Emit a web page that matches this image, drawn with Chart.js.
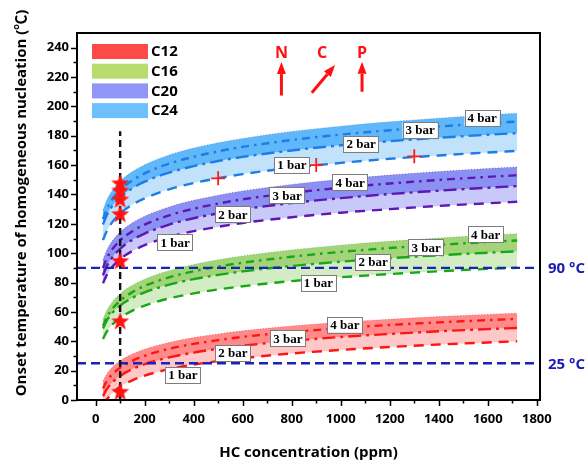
<!DOCTYPE html>
<html>
<head>
<meta charset="utf-8">
<script src="https://cdn.jsdelivr.net/npm/chart.js@4.4.0/dist/chart.umd.min.js"></script>
<style>
  html, body { margin: 0; padding: 0; background: #fff; }
  canvas { display: block; }
</style>
</head>
<body>
<canvas id="chart" width="586" height="464"></canvas>
<script>
// ---- data ----
const ppm = [30, 45, 65, 100, 150, 200, 300, 400, 500, 600, 800, 1000, 1200, 1400, 1600, 1720];

const c12Bar1 = [-3, 0.3, 4.3, 9, 13.4, 16.6, 21, 24.1, 26.5, 28.5, 31.7, 34.1, 36.1, 37.8, 39.2, 40];
const c12Bar2 = [2.6, 7.2, 11.4, 16.4, 21.1, 24.4, 29, 32.3, 34.9, 37, 40.3, 42.9, 45, 46.8, 48.3, 49.1];
const c12Bar3 = [7.9, 12.7, 17, 22, 26.7, 30.1, 34.9, 38.2, 40.8, 43, 46.3, 48.9, 51.1, 52.9, 54.4, 55.3];
const c12Bar4 = [13, 17.6, 21.8, 26.7, 31.3, 34.6, 39.2, 42.5, 45, 47.1, 50.4, 53, 55, 56.8, 58.3, 59.1];

const c16Bar1 = [41.6, 46.4, 50.8, 56, 60.9, 64.3, 69.2, 72.6, 75.3, 77.5, 81, 83.6, 85.8, 87.7, 89.3, 90.1];
const c16Bar2 = [48.7, 53.9, 58.7, 64.3, 69.6, 73.3, 78.6, 82.3, 85.2, 87.6, 91.3, 94.2, 96.6, 98.6, 100.3, 101.3];
const c16Bar3 = [50.4, 56.2, 61.5, 67.7, 73.5, 77.7, 83.5, 87.7, 90.9, 93.5, 97.6, 100.9, 103.5, 105.7, 107.6, 108.7];
const c16Bar4 = [55, 60.8, 66.1, 72.3, 78.1, 82.3, 88.1, 92.3, 95.5, 98.1, 102.2, 105.5, 108.1, 110.3, 112.2, 113.3];

const c20Bar1 = [79.5, 85.1, 90.1, 96, 101.5, 105.5, 111.1, 115, 118, 120.6, 124.5, 127.6, 130, 132.2, 134, 135];
const c20Bar2 = [84.9, 91, 96.5, 103, 109.1, 113.4, 119.5, 123.8, 127.1, 129.9, 134.2, 137.5, 140.3, 142.6, 144.6, 145.7];
const c20Bar3 = [89.9, 96.2, 102, 108.7, 115, 119.5, 125.8, 130.3, 133.8, 136.7, 141.1, 144.6, 147.5, 149.9, 152, 153.1];
const c20Bar4 = [95.6, 101.9, 107.7, 114.4, 120.7, 125.2, 131.5, 136, 139.5, 142.4, 146.8, 150.3, 153.2, 155.6, 157.7, 158.8];

const c24Bar1 = [108.9, 115, 120.5, 127, 133.1, 137.4, 143.5, 147.8, 151.1, 153.9, 158.2, 161.5, 164.3, 166.6, 168.6, 169.7];
const c24Bar2 = [119.5, 125.7, 131.4, 138, 144.2, 148.7, 154.9, 159.3, 162.8, 165.6, 170, 173.5, 176.3, 178.6, 180.7, 181.8];
const c24Bar3 = [123.3, 129.9, 135.9, 143, 149.6, 154.4, 161, 165.7, 169.4, 172.4, 177.1, 180.8, 183.8, 186.3, 188.5, 189.7];
const c24Bar4 = [129.4, 136, 142, 149, 155.6, 160.3, 166.9, 171.6, 175.2, 178.2, 182.9, 186.5, 189.5, 192, 194.2, 195.4];

const starPpm = [100, 100, 100, 100, 100, 100, 100];
const starTemp = [6, 54, 95, 127, 137, 143, 148];
const crossPpm = [500, 900, 1300];
const crossTemp = [151, 160, 166];

const xTicks = [0, 200, 400, 600, 800, 1000, 1200, 1400, 1600, 1800];
const yTicks = [0, 20, 40, 60, 80, 100, 120, 140, 160, 180, 200, 220, 240];

const refTemps = [90, 25];
const markerPpm = 100;
const markerTop = 183;

const seriesNames = ['C12', 'C16', 'C20', 'C24'];
const barLabelText = ['1 bar', '2 bar', '3 bar', '4 bar'];
// label anchors in data units, one row per series
const barLabelPpm = [
    [356, 560, 784, 1017],
    [909, 1132, 1348, 1591],
    [324, 560, 781, 1038],
    [801, 1083, 1324, 1577]
];
const barLabelTemp = [
    [17, 32, 42, 51.3],
    [79.7, 94, 104, 112.8],
    [107.4, 126.5, 139.5, 148.4],
    [160, 174.4, 183.9, 192.1]
];

// ---- styles ----
const bandStyles = [
    { line: '#ff1414', dark: '#ff8a8a', light: '#ffc8c8', key: '#ff4a4a' },
    { line: '#16a816', dark: '#a4d47a', light: '#d4ecc4', key: '#b8dd6e' },
    { line: '#5e16b4', dark: '#8b90f3', light: '#c8c9f8', key: '#8f96f5' },
    { line: '#1a7ee6', dark: '#60b7fa', light: '#c2e2fc', key: '#6ec0fc' }
];
const bandData = [
    [c12Bar1, c12Bar2, c12Bar3, c12Bar4],
    [c16Bar1, c16Bar2, c16Bar3, c16Bar4],
    [c20Bar1, c20Bar2, c20Bar3, c20Bar4],
    [c24Bar1, c24Bar2, c24Bar3, c24Bar4]
];

function points(xs, ys) {
    return xs.map((x, i) => ({ x: x, y: ys[i] }));
}

function makeStar(r, color) {
    const c = document.createElement('canvas');
    c.width = c.height = Math.ceil(r * 2) + 2;
    const ctx = c.getContext('2d');
    ctx.translate(c.width / 2, c.height / 2 + 1);
    ctx.beginPath();
    for (let i = 0; i < 10; i++) {
        const rad = i % 2 ? r * 0.42 : r;
        const a = -Math.PI / 2 + i * Math.PI / 5;
        ctx.lineTo(rad * Math.cos(a), rad * Math.sin(a));
    }
    ctx.closePath();
    ctx.fillStyle = color;
    ctx.fill();
    return c;
}

const datasets = [];

datasets.push({
    data: points(starPpm, starTemp),
    showLine: false,
    pointStyle: makeStar(9.5, '#ff1414'),
    pointRadius: 9
});
datasets.push({
    data: points(crossPpm, crossTemp),
    showLine: false,
    pointStyle: 'cross',
    pointRadius: 7,
    borderColor: '#ff1a1a',
    borderWidth: 1.8
});
datasets.push({
    data: [{ x: markerPpm, y: 0 }, { x: markerPpm, y: markerTop }],
    borderColor: '#111',
    borderWidth: 2.4,
    borderDash: [7, 4],
    pointRadius: 0
});
refTemps.forEach(t => {
    datasets.push({
        data: [{ x: -76, y: t }, { x: 1813, y: t }],
        borderColor: '#1a23b8',
        borderWidth: 2.4,
        borderDash: [9, 5],
        pointRadius: 0
    });
});

bandData.forEach((bars, s) => {
    const st = bandStyles[s];
    // 4 bar: upper edge, fills down to 2 bar
    datasets.push({
        data: points(ppm, bars[3]),
        borderColor: st.line + '88',
        borderWidth: 1,
        borderDash: [1, 2],
        backgroundColor: st.dark,
        fill: '+2',
        pointRadius: 0,
        cubicInterpolationMode: 'monotone'
    });
    datasets.push({
        data: points(ppm, bars[2]),
        borderColor: st.line,
        borderWidth: 2.4,
        borderDash: [8, 5, 2.5, 5],
        fill: false,
        pointRadius: 0,
        cubicInterpolationMode: 'monotone'
    });
    datasets.push({
        data: points(ppm, bars[1]),
        borderColor: st.line,
        borderWidth: 2.4,
        borderDash: [13, 5, 3, 5],
        backgroundColor: st.light,
        fill: '+1',
        pointRadius: 0,
        cubicInterpolationMode: 'monotone'
    });
    datasets.push({
        data: points(ppm, bars[0]),
        borderColor: st.line,
        borderWidth: 2.4,
        borderDash: [10, 7],
        fill: false,
        pointRadius: 0,
        cubicInterpolationMode: 'monotone'
    });
});

const sans = '"Open Sans", "Noto Sans CJK SC", sans-serif';

function drawArrow(ctx, x1, y1, x2, y2) {
    const a = Math.atan2(y2 - y1, x2 - x1);
    const head = 12, hw = 4.5;
    const bx = x2 - head * Math.cos(a), by = y2 - head * Math.sin(a);
    ctx.beginPath();
    ctx.moveTo(x1, y1);
    ctx.lineTo(bx, by);
    ctx.stroke();
    ctx.beginPath();
    ctx.moveTo(x2, y2);
    ctx.lineTo(bx + hw * Math.sin(a), by - hw * Math.cos(a));
    ctx.lineTo(bx - hw * Math.sin(a), by + hw * Math.cos(a));
    ctx.closePath();
    ctx.fill();
}

const decorPlugin = {
    id: 'decor',
    afterDatasetsDraw(chart) {
        const ctx = chart.ctx;
        const xs = chart.scales.x, ys = chart.scales.y;
        ctx.save();
        ctx.font = 'bold 13px "Liberation Serif", serif';
        ctx.textAlign = 'center';
        ctx.textBaseline = 'middle';
        barLabelPpm.forEach((row, s) => {
            row.forEach((p, i) => {
                const cx = xs.getPixelForValue(p);
                const cy = ys.getPixelForValue(barLabelTemp[s][i]);
                const w = ctx.measureText(barLabelText[i]).width + 6;
                const h = 16;
                ctx.fillStyle = '#fff';
                ctx.fillRect(cx - w / 2, cy - h / 2, w, h);
                ctx.strokeStyle = '#7c7c7c';
                ctx.lineWidth = 1;
                ctx.strokeRect(Math.round(cx - w / 2) + 0.5, Math.round(cy - h / 2) + 0.5, Math.round(w), h);
                ctx.fillStyle = '#000';
                ctx.fillText(barLabelText[i], cx, cy + 1);
            });
        });
        ctx.restore();
    },
    afterDraw(chart) {
        const ctx = chart.ctx;
        const area = chart.chartArea;
        const xs = chart.scales.x, ys = chart.scales.y;
        ctx.save();

        // frame
        ctx.strokeStyle = '#000';
        ctx.lineWidth = 2;
        ctx.strokeRect(area.left, area.top, area.right - area.left, area.bottom - area.top);

        // ticks
        ctx.lineWidth = 1.5;
        ctx.beginPath();
        yTicks.forEach(v => {
            const y = Math.round(ys.getPixelForValue(v)) + 0.5;
            ctx.moveTo(area.left - 6, y); ctx.lineTo(area.left, y);
            if (v + 10 < 250) {
                const ym = Math.round(ys.getPixelForValue(v + 10)) + 0.5;
                ctx.moveTo(area.left - 3.5, ym); ctx.lineTo(area.left, ym);
            }
        });
        xTicks.forEach(v => {
            const x = Math.round(xs.getPixelForValue(v)) + 0.5;
            ctx.moveTo(x, area.bottom); ctx.lineTo(x, area.bottom + 6);
            if (v + 100 < 1800) {
                const xm = Math.round(xs.getPixelForValue(v + 100)) + 0.5;
                ctx.moveTo(xm, area.bottom); ctx.lineTo(xm, area.bottom + 3.5);
            }
        });
        ctx.stroke();

        // y title
        ctx.fillStyle = '#000';
        ctx.font = 'bold 15px ' + sans;
        ctx.textAlign = 'center';
        ctx.textBaseline = 'middle';
        ctx.translate(22, 203);
        ctx.rotate(-Math.PI / 2);
        ctx.fillText('Onset temperature of homogeneous nucleation (℃)', 0, 0);
        ctx.setTransform(1, 0, 0, 1, 0, 0);

        // legend
        ctx.font = 'bold 15px ' + sans;
        ctx.textAlign = 'left';
        seriesNames.forEach((name, i) => {
            const top = area.top + 11 + i * 19.7;
            ctx.fillStyle = bandStyles[i].key;
            ctx.fillRect(area.left + 15, top, 56, 15);
            ctx.fillStyle = '#000';
            ctx.fillText(name, area.left + 74, top + 8);
        });

        // reference temperature labels
        ctx.fillStyle = '#1a1ab4';
        ctx.font = 'bold 15px ' + sans;
        refTemps.forEach(t => {
            ctx.fillText(t + ' °C', area.right + 8, ys.getPixelForValue(t) + 1);
        });

        // N, C, P arrows
        ctx.fillStyle = '#ff1010';
        ctx.strokeStyle = '#ff1010';
        ctx.lineWidth = 3;
        ctx.font = 'bold 16px ' + sans;
        ctx.textAlign = 'center';
        const arrows = [
            { t: 'N', lx: 758, ly: 236.4, x1: 758, y1: 207.4, x2: 758, y2: 230.2 },
            { t: 'C', lx: 924, ly: 236.4, x1: 882, y1: 209.3, x2: 977, y2: 228.2 },
            { t: 'P', lx: 1087, ly: 236.4, x1: 1087, y1: 210, x2: 1087, y2: 230.4 }
        ];
        arrows.forEach(a => {
            ctx.fillText(a.t, xs.getPixelForValue(a.lx), ys.getPixelForValue(a.ly));
            drawArrow(ctx, xs.getPixelForValue(a.x1), ys.getPixelForValue(a.y1),
                xs.getPixelForValue(a.x2), ys.getPixelForValue(a.y2));
        });

        ctx.restore();
    }
};

new Chart(document.getElementById('chart'), {
    type: 'line',
    data: { datasets: datasets },
    plugins: [decorPlugin],
    options: {
        responsive: false,
        animation: false,
        layout: { padding: { left: 0, right: 46, top: 33, bottom: 0 } },
        plugins: {
            legend: { display: false },
            tooltip: { enabled: false },
            filler: { drawTime: 'beforeDatasetsDraw' }
        },
        scales: {
            x: {
                type: 'linear',
                min: -76,
                max: 1813,
                afterBuildTicks: s => { s.ticks = xTicks.map(v => ({ value: v })); },
                afterFit: s => { s.height = 64; },
                grid: { display: false, drawTicks: false },
                border: { display: false },
                ticks: {
                    color: '#000',
                    padding: 11,
                    font: { family: sans, size: 13, weight: 'bold' },
                    callback: v => String(v)
                },
                title: {
                    display: true,
                    text: 'HC concentration (ppm)',
                    color: '#000',
                    padding: { top: 0, bottom: 2 },
                    font: { family: sans, size: 15, weight: 'bold' }
                }
            },
            y: {
                type: 'linear',
                min: 0,
                max: 250,
                afterBuildTicks: s => { s.ticks = yTicks.map(v => ({ value: v })); },
                afterFit: s => { s.width = 77; },
                grid: { display: false, drawTicks: false },
                border: { display: false },
                ticks: {
                    color: '#000',
                    padding: 8,
                    font: { family: sans, size: 13, weight: 'bold' },
                    callback: v => String(v)
                }
            }
        }
    }
});
</script>
</body>
</html>
